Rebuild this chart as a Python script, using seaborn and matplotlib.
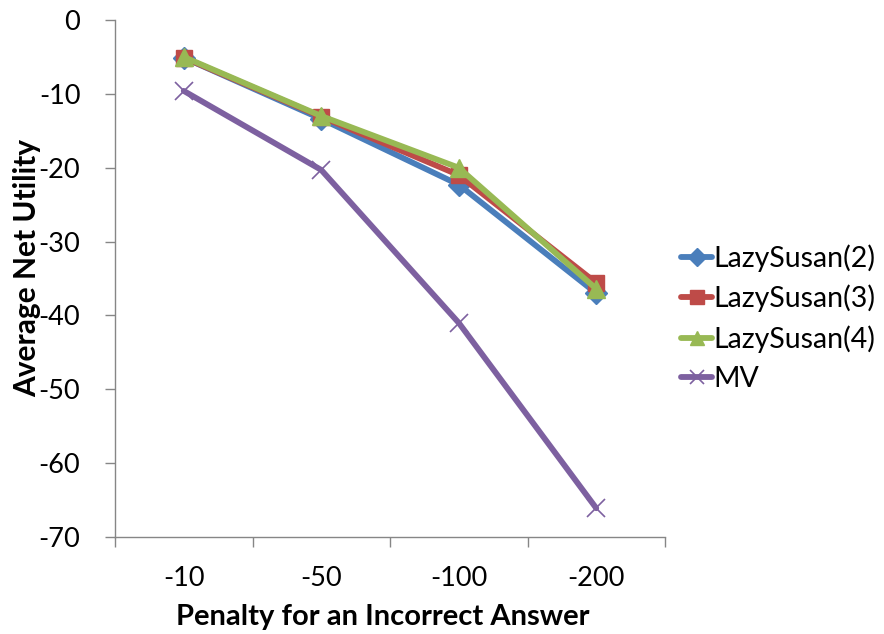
import matplotlib
matplotlib.use("Agg")
import matplotlib.pyplot as plt
import pandas as pd
import seaborn as sns

# Penalty levels on the x axis and average net utility per method
penalties = ["-10", "-50", "-100", "-200"]
lazy2 = [-5.1, -13.4, -22.3, -37.0]
lazy3 = [-5.1, -13.1, -21.0, -35.6]
lazy4 = [-5.0, -13.0, -20.0, -36.4]
mv = [-9.6, -20.3, -41.0, -66.1]

series_names = ["LazySusan(2)", "LazySusan(3)", "LazySusan(4)", "MV"]
series_values = [lazy2, lazy3, lazy4, mv]
y_ticks = [0, -10, -20, -30, -40, -50, -60, -70]

colors = ["#4A7EBB", "#BE4B48", "#98B954", "#7D60A0"]
markers = ["D", "s", "^", "x"]
msizes = [11, 12, 13, 13]
mews = [1, 1, 1, 1.2]

sns.set_style("white")
plt.rcParams["font.family"] = ["Lato", "DejaVu Sans"]
plt.rcParams["text.color"] = "black"
plt.rcParams["axes.labelcolor"] = "black"

W, H = 884, 634
fig = plt.figure(figsize=(W / 100, H / 100), dpi=100)
ax = fig.add_axes([115 / W, 1 - 537 / H, 550 / W, 517 / H])

for name, vals, c, m, ms, mew in zip(series_names, series_values, colors, markers, msizes, mews):
    df = pd.DataFrame({"penalty": penalties, "utility": vals})
    sns.lineplot(data=df, x="penalty", y="utility", ax=ax, color=c, linewidth=4.2,
                 marker=m, markersize=ms, markeredgewidth=mew,
                 markeredgecolor=c, markerfacecolor=c, label=name,
                 solid_joinstyle="miter")

ax.set_xlim(-0.5, 3.5)
ax.set_ylim(-70, 0)
ax.set_yticks(y_ticks)
ax.set_yticklabels([str(v) for v in y_ticks])
ax.set_xticks(range(len(penalties)))
ax.set_xticklabels(penalties)
ax.set_xticks([-0.5, 0.5, 1.5, 2.5, 3.5], minor=True)

axis_grey = "#868686"
for side in ["top", "right"]:
    ax.spines[side].set_visible(False)
for side in ["left", "bottom"]:
    ax.spines[side].set_color(axis_grey)
    ax.spines[side].set_linewidth(1.0)

ax.tick_params(axis="x", which="major", length=0, pad=21, labelsize=19.5, labelcolor="black")
ax.tick_params(axis="x", which="minor", length=7, width=1, color=axis_grey, direction="out", bottom=True)
ax.tick_params(axis="y", which="major", length=7, width=1, color=axis_grey, direction="out",
               left=True, pad=18, labelsize=19.5, labelcolor="black")

ax.set_xlabel("Penalty for an Incorrect Answer", fontsize=21, fontweight="bold", va="center",
              color="black")
ax.xaxis.set_label_coords((383 - 115) / 550, (537 - 617) / 517)
ax.set_ylabel("Average Net Utility", fontsize=21.5, fontweight="bold", va="center", color="black")
ax.yaxis.set_label_coords((27 - 115) / 550, (537 - 268) / 517)

leg = ax.legend(loc="center left", bbox_to_anchor=(681 / W, 1 - 318 / H),
                bbox_transform=fig.transFigure, frameon=False, fontsize=20.5,
                handlelength=1.1, handletextpad=0.05, labelspacing=0.45, borderaxespad=0,
                borderpad=0, markerscale=0.8)
for t in leg.get_texts():
    t.set_color("black")

fig.savefig("out.png", dpi=100)
